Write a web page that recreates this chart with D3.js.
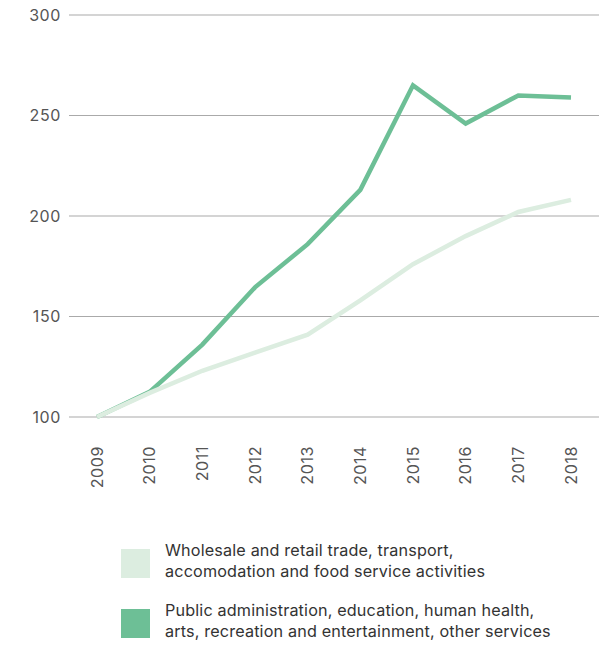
<!DOCTYPE html>
<html lang="en">
	<head>
		<meta charset="UTF-8" />
		<title>Index chart</title>
		<script src="https://d3js.org/d3.v7.min.js"></script>
		<style>
			body { margin: 0; background: #fff; }
			svg { display: block; font-family: 'Inter', 'Liberation Sans', sans-serif; }
			.grid line { stroke: #aaa; stroke-width: 1.2; }
			.axis text { fill: #555; font-size: 16px; letter-spacing: 0.6px; }
			.legend text { fill: #333; font-size: 16.2px; letter-spacing: 0.15px; }
		</style>
	</head>
	<body>
		<svg id="chart" width="600" height="646"></svg>
		<script>
			// data
			const years = ['2009', '2010', '2011', '2012', '2013', '2014', '2015', '2016', '2017', '2018']
			const wholesale = [100, 112, 123, 132, 141, 158, 176, 190, 202, 208]
			const publicAdmin = [100, 112.5, 136, 164.5, 186, 213, 265, 246, 260, 259]
			const yTicks = [100, 150, 200, 250, 300]
			const seriesNames = [
				['Wholesale and retail trade, transport,', 'accomodation and food service activities'],
				['Public administration, education, human health,', 'arts, recreation and entertainment, other services']
			]
			const colors = ['#dcede0', '#6dbf96']

			const svg = d3.select('#chart')

			const x = d3.scalePoint().domain(years).range([97, 571])
			const y = d3.scaleLinear().domain([100, 300]).range([417, 15])

			// gridlines
			svg.append('g')
				.attr('class', 'grid')
				.selectAll('line')
				.data(yTicks)
				.enter()
				.append('line')
				.attr('x1', 69)
				.attr('x2', 599)
				.attr('y1', d => y(d))
				.attr('y2', d => y(d))

			// y labels
			const yAxis = svg.append('g').attr('class', 'axis')
			yAxis.selectAll('text')
				.data(yTicks)
				.enter()
				.append('text')
				.attr('x', 61)
				.attr('y', d => y(d))
				.attr('dy', '0.35em')
				.attr('text-anchor', 'end')
				.text(d => d)

			// x labels, rotated
			const xAxis = svg.append('g').attr('class', 'axis')
			xAxis.selectAll('text')
				.data(years)
				.enter()
				.append('text')
				.attr('transform', d => 'translate(' + x(d) + ',446) rotate(-90)')
				.attr('dy', '0.35em')
				.attr('text-anchor', 'end')
				.text(d => d)

			// lines (the light series sits on top)
			const line = d3.line()
				.x((d, i) => x(years[i]))
				.y(d => y(d))

			;[publicAdmin, wholesale].forEach(function (s) {
				svg.append('path')
					.attr('d', line(s))
					.attr('fill', 'none')
					.attr('stroke', s === wholesale ? colors[0] : colors[1])
					.attr('stroke-width', 4.5)
			})

			// legend
			const legend = svg.append('g').attr('class', 'legend')
			seriesNames.forEach(function (lines, i) {
				const top = 549 + i * 60
				legend.append('rect')
					.attr('x', 121)
					.attr('y', top)
					.attr('width', 29)
					.attr('height', 29)
					.attr('fill', colors[i])
				lines.forEach(function (t, j) {
					legend.append('text')
						.attr('x', 165)
						.attr('y', top + 7 + j * 21)
						.text(t)
				})
			})
		</script>
	</body>
</html>
